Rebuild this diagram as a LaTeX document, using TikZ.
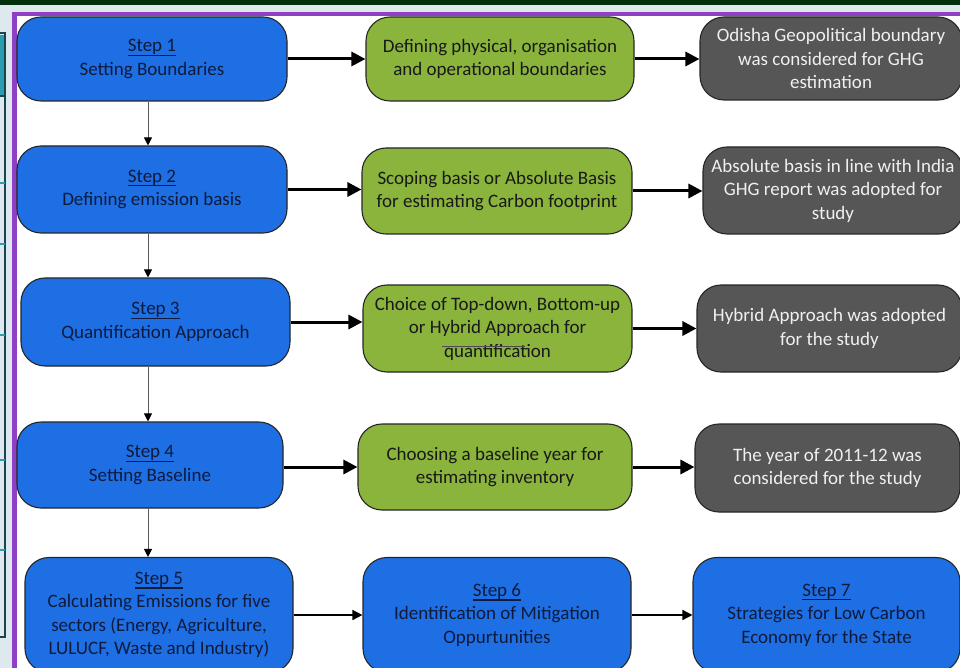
\documentclass[tikz,border=0pt]{standalone}
\usepackage{fontspec}
\setmainfont{Carlito}
\usetikzlibrary{arrows.meta}

\definecolor{stepblue}{HTML}{1E6FE3}
\definecolor{leafgreen}{HTML}{8AB43C}
\definecolor{slategrey}{HTML}{565656}
\definecolor{navytext}{HTML}{0F1A3C}
\definecolor{framepurple}{HTML}{8E40C4}
\definecolor{topgreen}{HTML}{02300F}
\definecolor{paleback}{HTML}{DDE8EF}
\definecolor{panelline}{HTML}{1B4450}
\definecolor{panelteal}{HTML}{2A9DB0}

% underlined step heading with a slightly heavier rule
\newcommand{\stephead}[1]{\setbox0=\hbox{#1}\leavevmode\rlap{\rule[-4.2pt]{\wd0}{1.1pt}}\box0}

\begin{document}
\begin{tikzpicture}[x=1pt,y=-1pt,
  box/.style={rounded corners=24pt, draw=black!85, line width=1.1pt, inner sep=0pt,
              align=center, font=\fontsize{19}{23.5}\selectfont},
  stepbox/.style={box, fill=stepblue, text=navytext},
  actbox/.style={box, fill=leafgreen, text=black!90},
  outbox/.style={box, fill=slategrey, text=white!94!black},
  bigarrow/.style={line width=3pt, -{Triangle[length=14pt,width=14pt]}},
  flowarrow/.style={line width=1.4pt, -{Triangle[length=10pt,width=10pt]}},
  downarrow/.style={draw=black!65, line width=1pt, -{Triangle[length=8pt,width=8pt,color=black]}}
]
\useasboundingbox (0,0) rectangle (960,668);
\clip (0,0) rectangle (960,668);

% backdrop, header strip and side panel
\fill[paleback] (0,0) rectangle (960,668);
\fill[topgreen] (0,0) rectangle (960,5);
\filldraw[fill=paleback, draw=panelline, line width=1.5pt] (-4,33) rectangle (5,637);
\fill[panelteal] (-4,35) rectangle (3.5,96);
\draw[panelline, line width=1.2pt] (-4,96) -- (5,96);
\foreach \yy in {183,244,335,460,550}
  \draw[panelteal, line width=1.5pt] (-4,\yy) -- (5,\yy);

% purple frame with white sheet
\fill[framepurple] (12,12) rectangle (970,680);
\fill[white] (16.5,16.5) rectangle (970,680);

% column 1: steps
\node[stepbox, minimum width=270, minimum height=84] (b1) at (152,59)
  {\stephead{Step 1}\\Setting Boundaries};
\node[stepbox, minimum width=270, minimum height=87] (b2) at (152,189.5)
  {\stephead{Step 2}\\Defining emission basis};
\node[stepbox, minimum width=269, minimum height=88] (b3) at (155.5,322)
  {\stephead{Step 3}\\Quantification Approach};
\node[stepbox, minimum width=266, minimum height=86] (b4) at (150,465)
  {\stephead{Step 4}\\Setting Baseline};
\node[stepbox, minimum width=268, minimum height=115] (b5) at (159,615)
  {\stephead{Step 5}\\Calculating Emissions for five\\sectors (Energy, Agriculture,\\LULUCF, Waste and Industry)};

% column 2: actions
\node[actbox, minimum width=268, minimum height=84] (g1) at (500,59)
  {Defining physical, organisation\\and operational boundaries};
\node[actbox, minimum width=270, minimum height=86] (g2) at (497,191)
  {Scoping basis or Absolute Basis\\for estimating Carbon footprint};
\node[actbox, minimum width=269, minimum height=87] (g3) at (497.5,328.5)
  {Choice of Top-down, Bottom-up\\or Hybrid Approach for\\quantification};
\node[actbox, minimum width=274, minimum height=86] (g4) at (495,467)
  {Choosing a baseline year for\\estimating inventory};
\node[stepbox, minimum width=268, minimum height=115] (s6) at (497,615)
  {\stephead{Step 6}\\Identification of Mitigation\\Oppurtunities};

% column 3: outcomes
\node[outbox, minimum width=262, minimum height=83] (r1) at (831,58.5)
  {Odisha Geopolitical boundary\\was considered for GHG\\estimation};
\node[outbox, minimum width=260, minimum height=87] (r2) at (833,190.5)
  {Absolute basis in line with India\\GHG report was adopted for\\study};
\node[outbox, minimum width=265, minimum height=87] (r3) at (829.5,328.5)
  {Hybrid Approach was adopted\\for the study};
\node[outbox, minimum width=265, minimum height=88] (r4) at (827.5,468)
  {The year of 2011-12 was\\considered for the study};
\node[stepbox, minimum width=267, minimum height=115] (s7) at (826.5,615)
  {\stephead{Step 7}\\Strategies for Low Carbon\\Economy for the State};

% stray rule over the third action text
\draw[black!70, line width=0.7pt] (442,346) -- (525,346);

% step-to-step connectors
\coordinate (spine) at (148,0);
\draw[downarrow] (b1.south -| spine) -- (b2.north -| spine);
\draw[downarrow] (b2.south -| spine) -- (b3.north -| spine);
\draw[downarrow] (b3.south -| spine) -- (b4.north -| spine);
\draw[downarrow] (b4.south -| spine) -- (b5.north -| spine);

% row connectors
\draw[bigarrow] (b1.east) -- (b1.east -| g1.west);
\draw[bigarrow] (g1.east) -- (g1.east -| r1.west);
\draw[bigarrow] (b2.east) -- (b2.east -| g2.west);
\draw[bigarrow] (g2.east) -- (g2.east -| r2.west);
\draw[bigarrow] (b3.east) -- (b3.east -| g3.west);
\draw[bigarrow] (g3.east) -- (g3.east -| r3.west);
\draw[bigarrow] (b4.east |- g4.west) -- (g4.west);
\draw[bigarrow] (g4.east) -- (g4.east -| r4.west);
\draw[flowarrow] (b5.east) -- (b5.east -| s6.west);
\draw[flowarrow] (s6.east) -- (s6.east -| s7.west);
\end{tikzpicture}
\end{document}
